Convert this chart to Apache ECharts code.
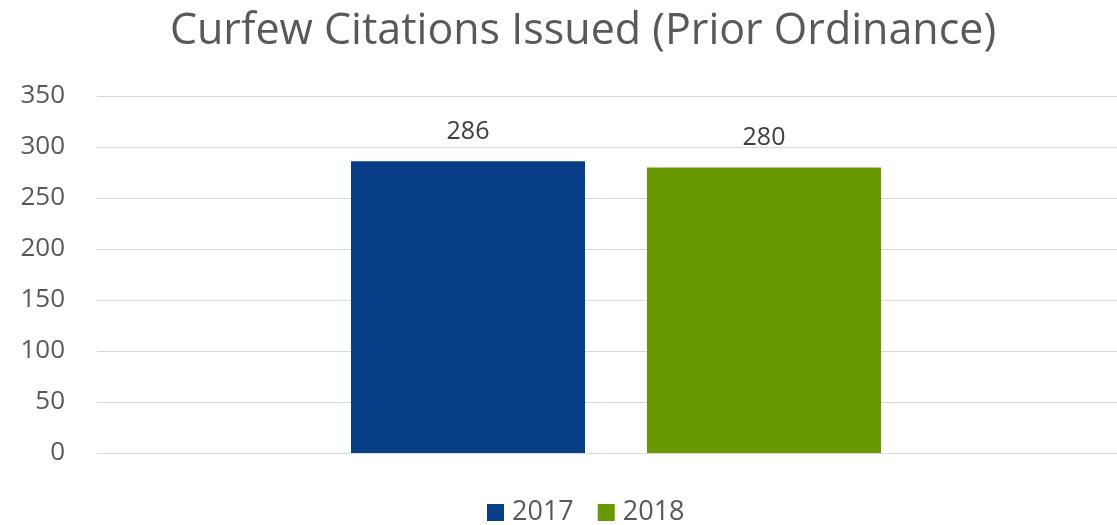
<!DOCTYPE html>
<html>
<head>
<meta charset="utf-8">
<script src="https://cdn.jsdelivr.net/npm/echarts@6/dist/echarts.min.js"></script>
<style>
  html, body { margin: 0; padding: 0; background: #fff; }
  #myCharts { width: 1117px; height: 525px; }
</style>
</head>
<body>
<div id="myCharts"></div>
<script>
const categories = [""];
const seriesNames = ["2017", "2018"];
const values2017 = [286];
const values2018 = [280];
const yTicks = [0, 50, 100, 150, 200, 250, 300, 350];

const myCharts = echarts.init(document.getElementById("myCharts"));
const font = "Open Sans";
let options = {
  animation: false,
  title: {
    text: "Curfew Citations Issued (Prior Ordinance)",
    left: 578,
    textAlign: "center",
    top: 5,
    textStyle: {
      fontFamily: font,
      fontSize: 43,
      fontWeight: "normal",
      color: "#595959"
    }
  },
  legend: {
    top: 494,
    left: 482,
    itemWidth: 17,
    itemHeight: 17,
    itemGap: 24,
    icon: "rect",
    textStyle: { fontFamily: font, fontSize: 27, color: "#595959", padding: [0, 0, 0, 3] },
    data: seriesNames
  },
  grid: {
    left: 97,
    right: -18, // 右端超出画面，让柱子组中心落在616
    top: 96,
    bottom: 72,
    outerBoundsMode: "none"
  },
  xAxis: {
    type: "category",
    data: categories,
    axisLine: { lineStyle: { color: "#d9d9d9", width: 1 } },
    axisTick: { show: false },
    axisLabel: { show: false }
  },
  yAxis: {
    type: "value",
    min: yTicks[0],
    max: yTicks[yTicks.length - 1],
    interval: 50,
    axisLine: { show: false },
    axisTick: { show: false },
    axisLabel: {
      fontFamily: font,
      fontSize: 26,
      color: "#595959",
      margin: 32
    },
    splitLine: { lineStyle: { color: "#d9d9d9", width: 1 } }
  },
  series: [
    {
      name: seriesNames[0],
      type: "bar",
      data: values2017,
      barWidth: 234,
      barGap: "26.5%",
      itemStyle: { color: "#073E87" },
      label: {
        show: true,
        position: "top",
        distance: 17,
        fontFamily: font,
        fontSize: 25,
        color: "#404040"
      }
    },
    {
      name: seriesNames[1],
      type: "bar",
      data: values2018,
      barWidth: 234,
      itemStyle: { color: "#669900" },
      label: {
        show: true,
        position: "top",
        distance: 17,
        fontFamily: font,
        fontSize: 25,
        color: "#404040"
      }
    }
  ]
};
myCharts.setOption(options);
</script>
</body>
</html>
